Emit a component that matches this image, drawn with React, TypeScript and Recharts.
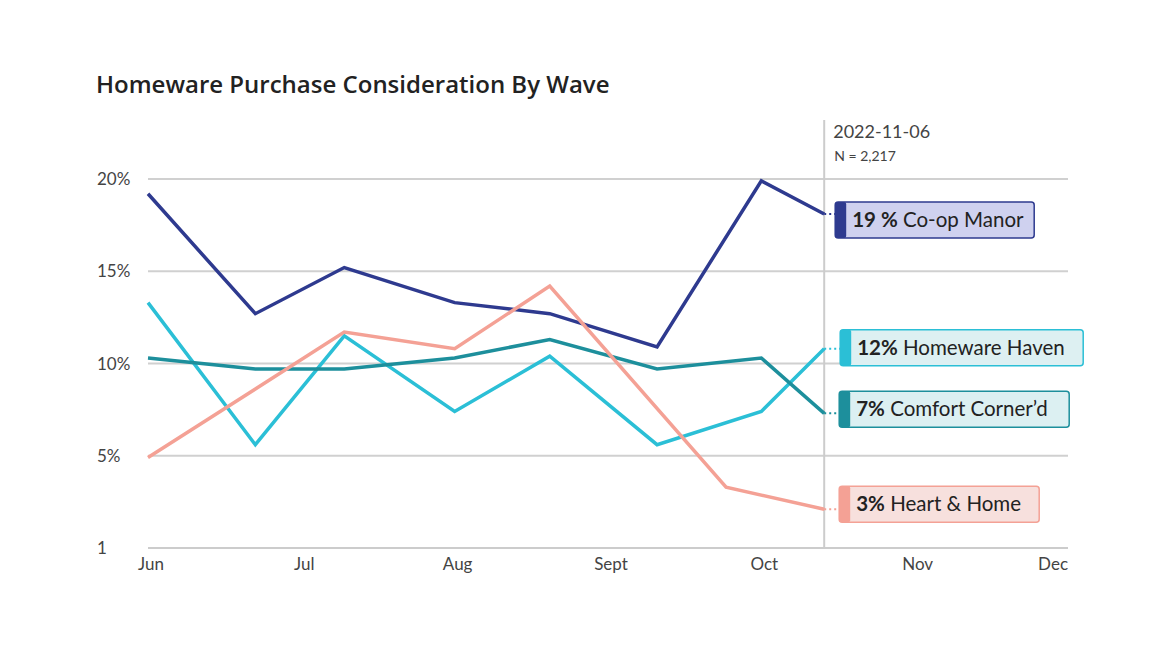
import React from "react";
import { LineChart, Line, XAxis, YAxis, CartesianGrid, ReferenceLine } from "recharts";

// x positions in month units (0 = Jun)
const waves = [0, 0.7, 1.28, 2.0, 2.62, 3.32, 3.77, 4.0, 4.41];
const coop = [19.2, 12.7, 15.2, 13.3, 12.7, 10.9, null, 19.9, 18.1];
const haven = [13.3, 5.6, 11.5, 7.4, 10.4, 5.6, null, 7.4, 10.8];
const comfort = [10.3, 9.7, 9.7, 10.3, 11.3, 9.7, null, 10.3, 7.3];
const heart = [4.9, null, 11.7, 10.8, 14.2, null, 3.3, null, 2.1];
const monthLabels = ["Jun", "Jul", "Aug", "Sept", "Oct", "Nov", "Dec"];
const yTicks = [0, 5, 10, 15, 20];

const series = [
  { key: "coop", values: coop, name: "Co-op Manor", pct: "19 %", stroke: "#2e3a8f", fill: "#cfd1ef", boxW: 199, dy: 6, gap: 11 },
  { key: "haven", values: haven, name: "Homeware Haven", pct: "12%", stroke: "#2bbfd6", fill: "#ddf0f2", boxW: 243, dy: -1, gap: 16 },
  { key: "comfort", values: comfort, name: "Comfort Corner’d", pct: "7%", stroke: "#1d8f9c", fill: "#dcf0f2", boxW: 230, dy: -4, gap: 15 },
  { key: "heart", values: heart, name: "Heart & Home", pct: "3%", stroke: "#f4a195", fill: "#f7e0dd", boxW: 200, dy: -5, gap: 15 },
];

const data = waves.map((w, i) => ({
  x: w,
  coop: coop[i],
  haven: haven[i],
  comfort: comfort[i],
  heart: heart[i],
}));

const FONT = "Lato, 'Open Sans', sans-serif";

const makeLabel = (s: (typeof series)[number]) => (props: any) => {
  const { x, y, index } = props;
  if (index !== waves.length - 1) return null;
  const bx = x + s.gap;
  const cy = y + s.dy;
  return (
    <g key={`lab-${s.key}`}>
      <line x1={x} y1={y} x2={bx} y2={y} stroke={s.stroke} strokeWidth={2} strokeDasharray="2 3" />
      <rect x={bx} y={cy - 18} width={s.boxW} height={36} rx={3} fill={s.fill} stroke={s.stroke} strokeWidth={1.5} />
      <rect x={bx} y={cy - 18} width={11} height={36} rx={2} fill={s.stroke} />
      <text x={bx + 17} y={cy + 7} fontSize={20.5} fill="#222" fontFamily={FONT}>
        <tspan fontWeight={700}>{s.pct}</tspan>
        <tspan> {s.name}</tspan>
      </text>
    </g>
  );
};

const RefLabel = (props: any) => {
  const { viewBox } = props;
  const x = viewBox.x;
  const y = viewBox.y;
  return (
    <g>
      <line x1={x} y1={120} x2={x} y2={y} stroke="#ccc" strokeWidth={2} />
      <text x={x + 9} y={138} fontSize={18} fill="#444" fontFamily={FONT}>2022-11-06</text>
      <text x={x + 10} y={161} fontSize={14} fill="#444" fontFamily={FONT}>N = 2,217</text>
    </g>
  );
};

const YTick = (props: any) => {
  const { y, payload } = props;
  return (
    <text x={97} y={y + 6} fontSize={17} fill="#444" fontFamily={FONT}>
      {payload.value === 0 ? "1" : `${payload.value}%`}
    </text>
  );
};

const XTick = (props: any) => {
  const { x, y, payload } = props;
  const last = payload.value === 6;
  return (
    <text x={last ? x : x + 3} y={y + 14} fontSize={17} fill="#444" fontFamily={FONT} textAnchor={last ? "end" : "middle"}>
      {monthLabels[payload.value]}
    </text>
  );
};

export default function App() {
  return (
    <div style={{ position: "relative", width: 1170, height: 646, margin: -8, background: "#fff", fontFamily: FONT }}>
      <div style={{ position: "absolute", left: 96, top: 67, fontSize: 24, fontWeight: 600, color: "#222", fontFamily: "'Open Sans', sans-serif" }}>
        Homeware Purchase Consideration By Wave
      </div>
      <LineChart width={1170} height={646} data={data} margin={{ top: 179, right: 102, bottom: 68, left: 88 }}>
        <CartesianGrid vertical={false} stroke="#d0d0d0" strokeWidth={2} />
        <XAxis
          dataKey="x"
          type="number"
          domain={[0, 6]}
          ticks={[0, 1, 2, 3, 4, 5, 6]}
          axisLine={{ stroke: "#ccc", strokeWidth: 2 }}
          tickLine={false}
          tick={<XTick />}
          height={30}
        />
        <YAxis
          domain={[0, 20]}
          ticks={yTicks}
          axisLine={false}
          tickLine={false}
          tick={<YTick />}
          width={60}
        />
        <ReferenceLine x={4.41} stroke="#ccc" strokeWidth={2} label={<RefLabel />} />
        {series.map((s) => (
          <Line
            key={s.key}
            dataKey={s.key}
            stroke={s.stroke}
            strokeWidth={3.5}
            dot={false}
            activeDot={false}
            connectNulls
            isAnimationActive={false}
            label={makeLabel(s)}
          />
        ))}
      </LineChart>
    </div>
  );
}
